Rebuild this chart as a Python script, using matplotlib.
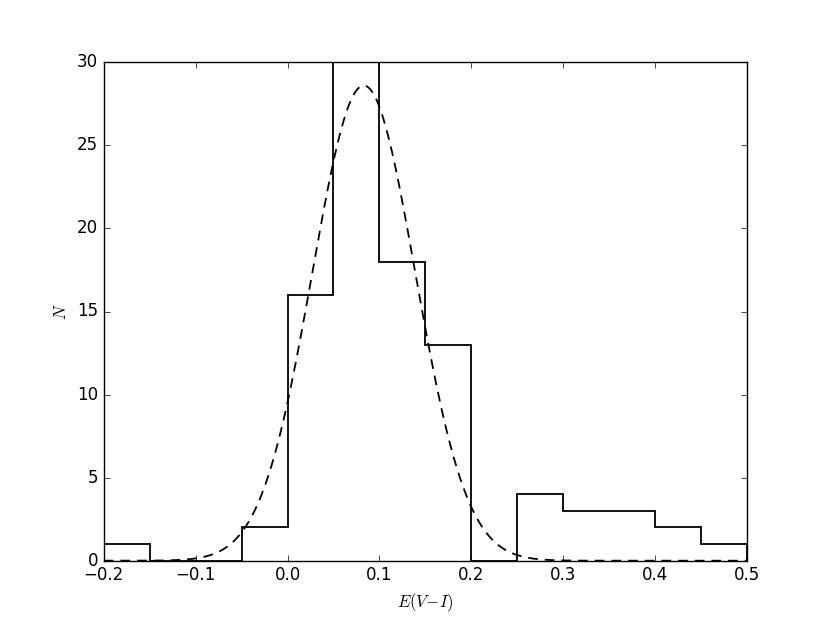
#!/usr/bin/env python3

import numpy as np
import matplotlib
matplotlib.use("Agg")
import matplotlib.pyplot as plt

plt.style.use("classic")

# histogram of E(V-I), bin width 0.05
bin_edges = [-0.2, -0.15, -0.1, -0.05, 0.0, 0.05, 0.1, 0.15, 0.2,
             0.25, 0.3, 0.35, 0.4, 0.45, 0.5]
counts = [1, 0, 0, 2, 16, 34, 18, 13, 0, 4, 3, 3, 2, 1]

# gaussian fit parameters
amp = 28.6
mu = 0.083
sigma = 0.056

fig = plt.figure(figsize=(8.3, 6.23), dpi=100)
ax = fig.add_subplot(111)

ax.hist(bin_edges[:-1], bins=bin_edges, weights=counts,
        histtype="step", color="k", lw=1.3)

x = np.linspace(-0.2, 0.5, 400)
g = amp * np.exp(-(x - mu) ** 2 / (2 * sigma ** 2))
ax.plot(x, g, color="k", ls=(0, (7, 5)), lw=1.3)

ax.set_xlim(-0.2, 0.5)
ax.set_ylim(0, 30)
ax.set_xlabel(r"$E(V\!-\!I)$")
ax.set_ylabel(r"$N$")

fig.savefig("out.png", dpi=100)
